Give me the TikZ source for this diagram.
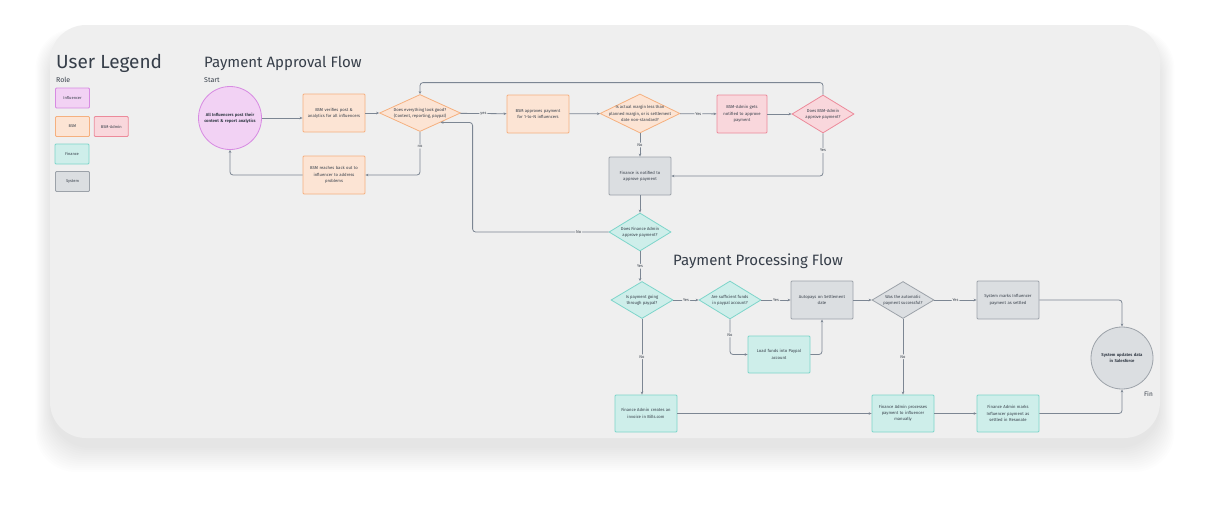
\documentclass[tikz,border=0pt]{standalone}
\usepackage{fontspec}
\setmainfont{Fira Sans}
\usepackage{xcolor}
\usetikzlibrary{arrows.meta,positioning,shapes.geometric}
\definecolor{Ink}{HTML}{363E49}
\definecolor{Wire}{HTML}{7C8693}
\definecolor{Card}{HTML}{EFEFEF}
\definecolor{Violet}{HTML}{D78BE2}
\definecolor{VioletSoft}{HTML}{F2D2F4}
\definecolor{Peach}{HTML}{F5B07F}
\definecolor{PeachSoft}{HTML}{FCE4D4}
\definecolor{Rose}{HTML}{EC8A9A}
\definecolor{RoseSoft}{HTML}{F9D7DC}
\definecolor{Aqua}{HTML}{7DD5CA}
\definecolor{AquaSoft}{HTML}{CEEEEA}
\definecolor{Slate}{HTML}{9CA2A9}
\definecolor{SlateSoft}{HTML}{DBDEE1}
\newcommand{\boxfont}{\fontsize{4.2}{6.3}\selectfont}
\newcommand{\tagfont}{\fontsize{4}{4.5}\selectfont}
\tikzset{
  task/.style={rectangle,rounded corners=1pt,line width=0.8pt,minimum width=62pt,minimum height=38pt,text width=60pt,align=center,inner sep=0pt,font=\boxfont,text=Ink},
  taskbsm/.style={task,draw=Peach,fill=PeachSoft},
  taskadmin/.style={task,draw=Rose,fill=RoseSoft},
  taskfin/.style={task,draw=Aqua,fill=AquaSoft},
  tasksys/.style={task,draw=Slate,fill=SlateSoft},
  choice/.style={diamond,line width=0.8pt,minimum width=62pt,minimum height=38pt,inner sep=0pt},
  choicetext/.style={font=\boxfont,align=center,text=Ink,inner sep=0pt},
  choicebsm/.style={choice,draw=Peach,fill=PeachSoft},
  choiceadmin/.style={choice,draw=Rose,fill=RoseSoft},
  choicefin/.style={choice,draw=Aqua,fill=AquaSoft},
  choicesys/.style={choice,draw=Slate,fill=SlateSoft},
  terminal/.style={circle,line width=0.8pt,minimum size=63pt,inner sep=0pt,text width=58pt,align=center,font=\boxfont\bfseries,text=Ink},
  legend/.style={rectangle,rounded corners=1pt,line width=0.8pt,minimum width=34pt,minimum height=20pt,inner sep=0pt,font=\tagfont,text=Ink},
  conn/.style={-{Stealth[length=3pt,width=2.6pt]},draw=Wire,line width=0.8pt,rounded corners=3pt},
  lbl/.style={font=\tagfont,fill=Card,text=Ink,inner sep=1pt},
  title/.style={font=\fontsize{15}{18}\selectfont,text=Ink,anchor=base west,inner sep=0pt},
  note/.style={font=\fontsize{7}{8}\selectfont,text=Ink,anchor=base west,inner sep=0pt}
}

\begin{document}
\begin{tikzpicture}[x=1pt,y=-1pt]
  \useasboundingbox (0,0) rectangle (1209,514);
  % card and its shadow
  \foreach \g in {0,2,...,24}
    \fill[black,opacity=0.009,rounded corners=40pt] (50-0.6*\g,38-0.4*\g) rectangle (1160+0.6*\g,448+\g);
  \fill[Card,rounded corners=36pt] (50,25) rectangle (1160,438);

  % legend
  \node[title,font=\fontsize{19}{22}\selectfont] (legendtitle) at (56,68) {User Legend};
  \node[note] (roletitle) at (56,82) {Role};
  \node[legend,draw=Violet,fill=VioletSoft] (leginf) at (72.5,98) {Influencer};
  \node[legend,draw=Peach,fill=PeachSoft] (legbsm) at (72.5,126.5) {BSM};
  \node[legend,draw=Rose,fill=RoseSoft,right=4pt of legbsm] (legadmin) {BSM-Admin};
  \node[legend,draw=Aqua,fill=AquaSoft] (legfin) at (72,154) {Finance};
  \node[legend,draw=Slate,fill=SlateSoft] (legsys) at (72.5,181.5) {System};

  % payment approval flow
  \node[title] (approvaltitle) at (204,67) {Payment Approval Flow};
  \node[note] (starttitle) at (204,82) {Start};
  \node[terminal,draw=Violet,fill=VioletSoft] (start) at (230,118) {All Influencers post their\\content \& report analytics};
  \node[taskbsm] (verify) at (334,113) {BSM verifies post \&\\analytics for all influencers};
  \node[taskbsm] (reach) at (334,175) {BSM reaches back out to\\influencer to address\\problems};
  \node[choicebsm,minimum width=81pt,minimum height=37pt,label={[choicetext]center:{Does everything look good?\\(Content, reporting, paypal)}}] (lookgood) at (420,113) {};
  \node[taskbsm] (approve) at (538,114) {BSM approves payment\\for 1-to-N influencers};
  \node[choicebsm,minimum width=80pt,minimum height=39pt,label={[choicetext]center:{Is actual margin less than\\planned margin, or is settlement\\date non-standard?}}] (margin) at (640,113.5) {};
  \node[taskadmin,minimum width=50pt,text width=48pt] (adminnote) at (742,114) {BSM-Admin gets\\notified to approve\\payment};
  \node[choiceadmin,label={[choicetext]center:{Does BSM-Admin\\approve payment?}}] (adminok) at (823,114) {};
  \node[tasksys] (finnote) at (640,176) {Finance is notified to\\approve payment};
  \node[choicefin,label={[choicetext]center:{Does Finance Admin\\approve payment?}}] (finok) at (640,232) {};

  \draw[conn] (start.east) -- (start.east -| verify.west);
  \draw[conn] (verify) -- (lookgood);
  \draw[conn] (lookgood) -- node[lbl]{yes} (approve);
  \draw[conn] (lookgood.south) |- node[lbl,pos=0.17]{no} (reach.east);
  \draw[conn] (reach.west) -| (start.south);
  \draw[conn] (approve) -- (margin);
  \draw[conn] (margin) -- node[lbl]{Yes} (adminnote);
  \draw[conn] (margin) -- node[lbl]{No} (finnote);
  \draw[conn] (adminnote) -- (adminok);
  \draw[conn] (adminok.north) -- ++(0,-12) -| (lookgood.north);
  \draw[conn] (adminok.south) |- node[lbl,pos=0.2]{Yes} (finnote.east);
  \draw[conn] (finnote) -- (finok);
  \draw[conn] (finok.west) -- node[lbl,pos=0.22]{No} ++(-136,0) |- (lookgood.south east);

  % payment processing flow
  \node[title] (processtitle) at (673,265) {Payment Processing Flow};
  \node[choicefin,minimum height=37pt,label={[choicetext]center:{Is payment going\\through paypal?}}] (paypal) at (642,300) {};
  \node[choicefin,label={[choicetext]center:{Are sufficient funds\\in paypal account?}}] (funds) at (730,300) {};
  \node[tasksys] (autopay) at (822,300) {Autopays on Settlement\\date};
  \node[taskfin,minimum height=37pt] (loadfunds) at (779,354.5) {Load funds into Paypal\\account};
  \node[choicesys,minimum height=37pt,label={[choicetext]center:{Was the automatic\\payment successful?}}] (success) at (903,300) {};
  \node[tasksys] (sysmark) at (1008,300) {System marks Influencer\\payment as settled};
  \node[terminal,draw=Slate,fill=SlateSoft,minimum size=62pt] (finish) at (1122,358) {System updates data\\in Salesforce};
  \node[note,font=\fontsize{6.5}{8}\selectfont] (fintitle) at (1144,396) {Fin};
  \node[taskfin,minimum height=37pt] (invoice) at (646,413.5) {Finance Admin creates an\\invoice in Bills.com};
  \node[taskfin,minimum height=37pt] (manual) at (903,413.5) {Finance Admin processes\\payment to influencer\\manually};
  \node[taskfin,minimum height=37pt] (finmark) at (1008,413.5) {Finance Admin marks\\Influencer payment as\\settled in Resonate};

  \draw[conn] (finok.south) -- node[lbl]{Yes} (finok.south |- paypal.north);
  \draw[conn] (paypal) -- node[lbl]{Yes} (funds);
  \draw[conn] (funds) -- node[lbl]{Yes} (autopay);
  \draw[conn] (funds.south) |- node[lbl,pos=0.22]{No} (loadfunds.west);
  \draw[conn] (loadfunds.east) -| (autopay.south);
  \draw[conn] (autopay) -- (success);
  \draw[conn] (success) -- node[lbl]{Yes} (sysmark);
  \draw[conn] (sysmark.east) -| (finish.north);
  \draw[conn] (paypal.south) -- node[lbl]{No} (paypal.south |- invoice.north);
  \draw[conn] (success) -- node[lbl]{No} (manual);
  \draw[conn] (invoice) -- (manual);
  \draw[conn] (manual) -- (finmark);
  \draw[conn] (finmark.east) -| (finish.south);
\end{tikzpicture}
\end{document}
